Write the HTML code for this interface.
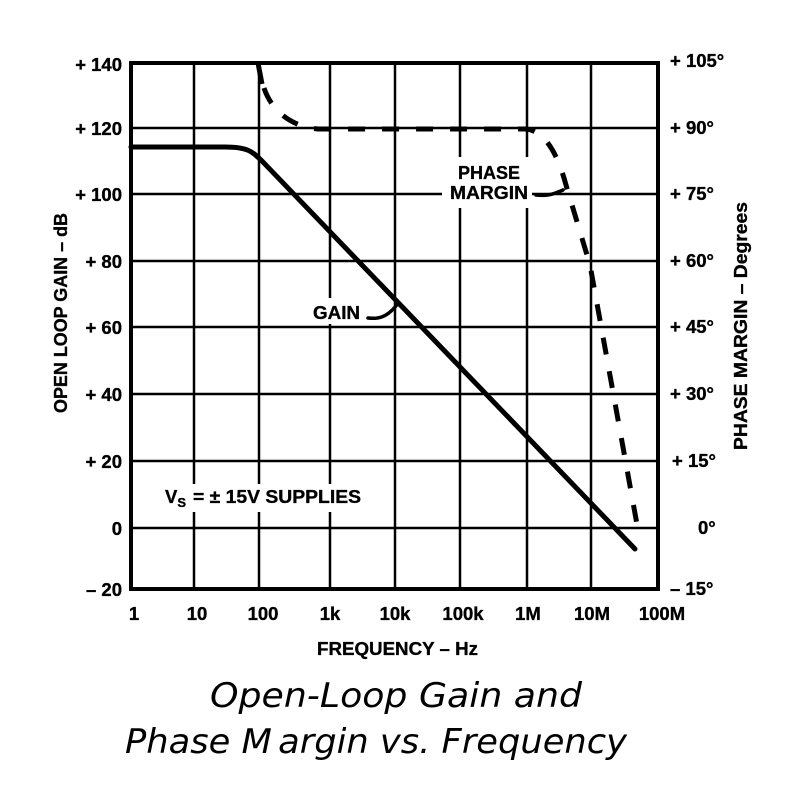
<!DOCTYPE html>
<html>
<head>
<meta charset="utf-8">
<style>
  html, body { margin: 0; padding: 0; background: #fff; }
  svg { display: block; }
  .lbl { font-family: "Liberation Sans", Arial, sans-serif; font-weight: bold; font-size: 18.5px; fill: #000; stroke: #000; stroke-width: 0.35px; }
  .ttl { font-family: "DejaVu Sans", "Liberation Sans", sans-serif; font-style: oblique; font-size: 34px; fill: #000; }
</style>
</head>
<body>
<svg width="802" height="809" viewBox="0 0 802 809" xmlns="http://www.w3.org/2000/svg">
  <rect x="0" y="0" width="802" height="809" fill="#fff"/>

  <!-- grid -->
  <g stroke="#000" stroke-width="2.5">
    <line x1="194" y1="63" x2="194" y2="589"/>
    <line x1="259" y1="63" x2="259" y2="589"/>
    <line x1="330" y1="63" x2="330" y2="589"/>
    <line x1="395" y1="63" x2="395" y2="589"/>
    <line x1="460" y1="63" x2="460" y2="589"/>
    <line x1="527" y1="63" x2="527" y2="589"/>
    <line x1="591" y1="63" x2="591" y2="589"/>
    <line x1="131" y1="128" x2="658" y2="128"/>
    <line x1="131" y1="194" x2="658" y2="194"/>
    <line x1="131" y1="261" x2="658" y2="261"/>
    <line x1="131" y1="327" x2="658" y2="327"/>
    <line x1="131" y1="394" x2="658" y2="394"/>
    <line x1="131" y1="461" x2="658" y2="461"/>
    <line x1="131" y1="528" x2="658" y2="528"/>
  </g>
  <!-- border -->
  <rect x="131" y="63" width="527" height="526" fill="none" stroke="#000" stroke-width="4"/>

  <!-- white boxes behind annotations -->
  <rect x="442" y="157" width="90" height="51" fill="#fff"/>
  <rect x="308" y="298" width="58" height="26" fill="#fff"/>
  <rect x="158" y="484" width="212" height="28" fill="#fff"/>

  <!-- gain curve -->
  <path d="M131,147 L225,147 C247,147 252,151 262,161 L635,549" fill="none" stroke="#000" stroke-width="5" stroke-linecap="round" stroke-linejoin="round"/>

  <!-- phase margin curve -->
  <path d="M258,63 L262,84" fill="none" stroke="#000" stroke-width="5"/>
  <path d="M264,88 C270,106 286,126 318,129 L525,129 C545,130 558,155 566,185 L590,265 L638,530" fill="none" stroke="#000" stroke-width="5" stroke-dasharray="17 17"/>

  <!-- leaders -->
  <path d="M368,318 C378,319 386,318 396,306" fill="none" stroke="#000" stroke-width="3.5" stroke-linecap="round"/>
  <path d="M536,195 C546,196 552,195 563,190" fill="none" stroke="#000" stroke-width="3.5" stroke-linecap="round"/>

  <!-- annotations -->
  <text class="lbl" x="313" y="319" textLength="47" lengthAdjust="spacingAndGlyphs">GAIN</text>
  <text class="lbl" x="458" y="179" textLength="62" lengthAdjust="spacingAndGlyphs">PHASE</text>
  <text class="lbl" x="450" y="199" textLength="78" lengthAdjust="spacingAndGlyphs">MARGIN</text>
  <text class="lbl" x="165" y="503">V<tspan font-size="13" dy="4">S</tspan><tspan dy="-4" dx="7" textLength="168" lengthAdjust="spacingAndGlyphs">= ± 15V SUPPLIES</tspan></text>

  <!-- left axis labels -->
  <g class="lbl" text-anchor="end">
    <text x="122" y="71">+ 140</text>
    <text x="122" y="135">+ 120</text>
    <text x="122" y="201">+ 100</text>
    <text x="122" y="268">+ 80</text>
    <text x="122" y="334">+ 60</text>
    <text x="122" y="401">+ 40</text>
    <text x="122" y="468">+ 20</text>
    <text x="122" y="535">0</text>
    <text x="122" y="596">– 20</text>
  </g>

  <!-- right axis labels -->
  <g class="lbl">
    <text x="670" y="67">+ 105°</text>
    <text x="670" y="134">+ 90°</text>
    <text x="670" y="200">+ 75°</text>
    <text x="670" y="267">+ 60°</text>
    <text x="670" y="333">+ 45°</text>
    <text x="670" y="400">+ 30°</text>
    <text x="672" y="467">+ 15°</text>
    <text x="698" y="534">0°</text>
    <text x="670" y="595">– 15°</text>
  </g>

  <!-- x axis labels -->
  <g class="lbl" text-anchor="middle">
    <text x="134" y="620">1</text>
    <text x="197" y="620">10</text>
    <text x="263" y="620">100</text>
    <text x="330" y="620">1k</text>
    <text x="395" y="620">10k</text>
    <text x="463" y="620">100k</text>
    <text x="528" y="620">1M</text>
    <text x="592" y="620">10M</text>
    <text x="662" y="620">100M</text>
  </g>

  <text class="lbl" x="317" y="655" font-size="17" textLength="161" lengthAdjust="spacingAndGlyphs">FREQUENCY – Hz</text>

  <!-- axis titles -->
  <text class="lbl" transform="translate(67,313) rotate(-90)" text-anchor="middle" textLength="200" lengthAdjust="spacingAndGlyphs">OPEN LOOP GAIN – dB</text>
  <text class="lbl" transform="translate(747,326) rotate(-90)" text-anchor="middle" textLength="248" lengthAdjust="spacingAndGlyphs">PHASE MARGIN – Degrees</text>

  <!-- caption -->
  <text class="ttl" x="210" y="707" textLength="372" lengthAdjust="spacingAndGlyphs">Open-Loop Gain and</text>
  <text class="ttl" x="125" y="753" textLength="502" lengthAdjust="spacingAndGlyphs">Phase M<tspan dx="6">argin vs. Frequency</tspan></text>
</svg>
</body>
</html>
